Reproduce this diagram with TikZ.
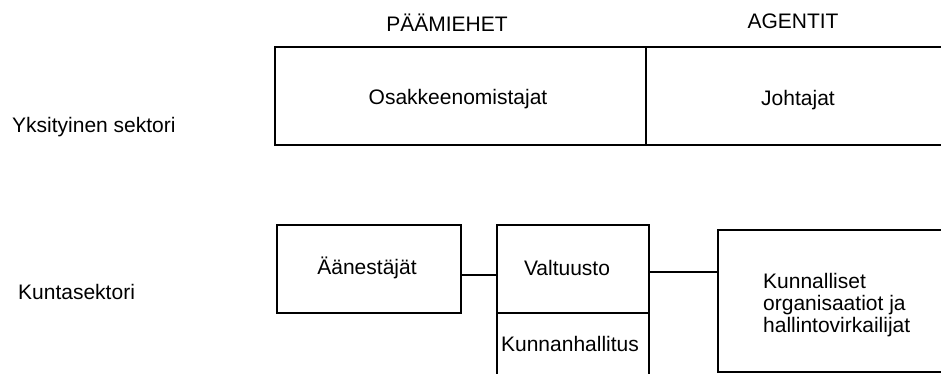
\documentclass[tikz,border=0pt]{standalone}
\usepackage{fontspec}
\setmainfont{Liberation Sans}
\begin{document}
\begin{tikzpicture}[x=1pt,y=-1pt,
  every node/.style={font=\fontsize{21}{22}\selectfont, inner sep=0pt},
  cell/.style={draw, line width=1.3pt, rectangle, anchor=center},
  link/.style={line width=1.3pt},
  heading/.style={anchor=center},
  rowlabel/.style={anchor=west}]
\useasboundingbox (0,0) rectangle (941,374);
\clip (0,0) rectangle (941,374);

% column headings
\node[heading] (paamiehet) at (447,23) {PÄÄMIEHET};
\node[heading] (agentit) at (793,21) {AGENTIT};

% row labels
\node[rowlabel] (yks) at (12,127) {Yksityinen sektori};
\node[rowlabel] (kunta) at (18,292) {Kuntasektori};

% private sector
\node[cell, minimum width=371, minimum height=98] (osak) at (460.5,96) {};
\node (osaktxt) at (458,99) {Osakkeenomistajat};
\node[cell, minimum width=308, minimum height=98] (johta) at (800,96) {};
\node (johtatxt) at (798,100) {Johtajat};

% municipal sector
\node[cell, minimum width=184, minimum height=88] (aanest) at (369,269) {};
\node (aanesttxt) at (367,268) {Äänestäjät};
\node[cell, minimum width=152, minimum height=88] (valt) at (573,269) {};
\node (valttxt) at (567,268) {Valtuusto};
\node[cell, minimum width=152, minimum height=66] (khall) at (573,346) {};
\node (khalltxt) at (570,344) {Kunnanhallitus};
\node[cell, minimum width=240, minimum height=142] (kunnal) at (838,301) {};
\node[anchor=west, align=left] (kunnaltxt) at (763,305) {Kunnalliset\\organisaatiot ja\\hallintovirkailijat};

% connectors
\coordinate (valtout) at ([yshift=-3pt]valt.east);
\draw[link] ([yshift=-6pt]aanest.east) -- ([yshift=-6pt]valt.west);
\draw[link] (valtout) -- (valtout -| kunnal.west);
\end{tikzpicture}
\end{document}
